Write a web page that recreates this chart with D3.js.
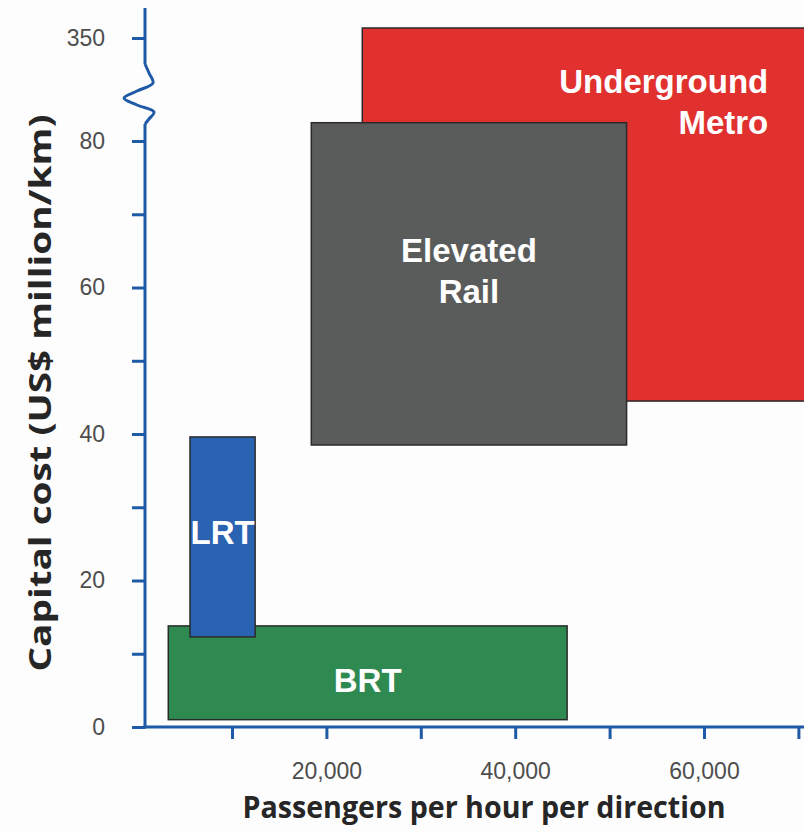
<!DOCTYPE html>
<html>
<head>
<meta charset="utf-8">
<script src="https://cdn.jsdelivr.net/npm/d3@7"></script>
<style>
  html, body { margin: 0; padding: 0; background: #fdfdfd; }
  svg { display: block; }
</style>
</head>
<body>
<div id="chart"></div>
<script>
// Transit modes: capacity (passengers/hour/direction) vs capital cost (US$ million/km)
const modes    = ["Underground Metro", "Elevated Rail", "BRT", "LRT"];
const paxLow   = [23800, 18400, 3250, 5550];
const paxHigh  = [72000, 51800, 45500, 12450];
const costLow  = [44.5, 38.5, 1, 12.3];
const costHigh = [360, 82.5, 13.8, 39.6];
const labelLines = [["Underground", "Metro"], ["Elevated", "Rail"], ["BRT"], ["LRT"]];

const xTicks = [10000, 20000, 30000, 40000, 50000, 60000, 70000];
const xTickLabels = [20000, 40000, 60000];
const yTicks = [0, 10, 20, 30, 40, 50, 60, 70, 80, 350];
const yTickLabels = [0, 20, 40, 60, 80, 350];

const fills = {
  "Underground Metro": "#e1312f",
  "Elevated Rail": "#5a5c5b",
  "BRT": "#2f8a52",
  "LRT": "#2a63b2"
};
// vertical nudge of each label block relative to its box centre (px)
const labelNudge = { "Elevated Rail": -13, "BRT": 7, "LRT": -5 };

const W = 804, H = 832;
const axisColor = "#1f5aa6";
const axisX = 145;

const svg = d3.select("#chart").append("svg")
  .attr("width", W).attr("height", H);

const x = d3.scaleLinear().domain([0, 70000]).range([137.6, 798.4]);
// broken value axis: 0–85 on the main scale, 340–360 above the break
const y = d3.scaleLinear().domain([0, 85, 340, 360]).range([727, 104.4, 48, 28]);

const rows = modes.map((m, i) => ({
  mode: m, x0: paxLow[i], x1: paxHigh[i], y0: costLow[i], y1: costHigh[i], lines: labelLines[i]
}));

// boxes
svg.append("g").selectAll("rect").data(rows).join("rect")
  .attr("x", d => x(d.x0))
  .attr("y", d => y(d.y1))
  .attr("width", d => x(d.x1) - x(d.x0))
  .attr("height", d => y(d.y0) - y(d.y1))
  .attr("fill", d => fills[d.mode])
  .attr("stroke", "#2a2a2a")
  .attr("stroke-width", 1.5);

// box labels
const lh = 41;
const lab = svg.append("g")
  .attr("font-family", "'Liberation Sans', Arial, sans-serif")
  .attr("font-weight", "bold")
  .attr("font-size", 33)
  .attr("fill", "#ffffff");

rows.forEach(d => {
  let tx, ty, anchor;
  if (d.mode === "Underground Metro") {
    tx = x(d.x1) - 49;
    ty = y(d.y1) + 65;
    anchor = "end";
  } else {
    tx = (x(d.x0) + x(d.x1)) / 2;
    ty = (y(d.y0) + y(d.y1)) / 2 - (d.lines.length - 1) * lh / 2 + 12 + (labelNudge[d.mode] || 0);
    anchor = "middle";
  }
  const t = lab.append("text").attr("text-anchor", anchor);
  d.lines.forEach((s, k) => {
    t.append("tspan").attr("x", tx).attr("y", ty + k * lh).text(s);
  });
});

// y axis with break
const yAxis = svg.append("g").attr("transform", `translate(${axisX},0)`);
const breakTop = 64, breakBot = 124;
yAxis.append("line")
  .attr("x1", 0).attr("x2", 0).attr("y1", 8).attr("y2", breakTop)
  .attr("stroke", axisColor).attr("stroke-width", 3);
yAxis.append("path")
  .attr("d", d3.line().curve(d3.curveCatmullRom)([[0, breakTop], [4, 73], [8, 83], [-8, 91], [-21, 98], [-8, 105], [9, 112], [4, 119], [0, breakBot]]))
  .attr("fill", "none").attr("stroke", axisColor).attr("stroke-width", 3);
yAxis.append("line")
  .attr("x1", 0).attr("x2", 0).attr("y1", breakBot).attr("y2", 728.5)
  .attr("stroke", axisColor).attr("stroke-width", 3);

const yAx = d3.axisLeft(y).tickValues(yTicks).tickSize(13).tickPadding(27)
  .tickFormat(v => yTickLabels.includes(v) ? String(v) : "");
yAxis.call(yAx);
yAxis.select(".domain").remove();
yAxis.selectAll(".tick line").attr("stroke", axisColor).attr("stroke-width", 3);
yAxis.selectAll(".tick text")
  .attr("font-family", "'Liberation Sans', Arial, sans-serif")
  .attr("font-size", 23).attr("fill", "#4d4d4d");

// x axis
const xAxis = svg.append("g").attr("transform", "translate(0,727)");
xAxis.append("line")
  .attr("x1", axisX - 1.5).attr("x2", W).attr("y1", 0).attr("y2", 0)
  .attr("stroke", axisColor).attr("stroke-width", 3);
const xAx = d3.axisBottom(x).tickValues(xTicks).tickSize(12).tickPadding(24)
  .tickFormat(v => xTickLabels.includes(v) ? d3.format(",")(v) : "");
xAxis.call(xAx);
xAxis.select(".domain").remove();
xAxis.selectAll(".tick line").attr("stroke", axisColor).attr("stroke-width", 3);
xAxis.selectAll(".tick text")
  .attr("font-family", "'Liberation Sans', Arial, sans-serif")
  .attr("font-size", 23).attr("fill", "#4d4d4d");

// axis titles
svg.append("text")
  .attr("x", 484).attr("y", 818)
  .attr("text-anchor", "middle")
  .attr("font-family", "'Open Sans', sans-serif")
  .attr("font-weight", 700).attr("font-size", 30)
  .attr("fill", "#262626")
  .attr("textLength", 483).attr("lengthAdjust", "spacingAndGlyphs")
  .text("Passengers per hour per direction");

svg.append("text")
  .attr("transform", "translate(51,393) rotate(-90)")
  .attr("text-anchor", "middle")
  .attr("font-family", "'Open Sans', sans-serif")
  .attr("font-weight", 700).attr("font-size", 30)
  .attr("fill", "#262626")
  .attr("textLength", 557).attr("lengthAdjust", "spacingAndGlyphs")
  .text("Capital cost (US$ million/km)");
</script>
</body>
</html>
